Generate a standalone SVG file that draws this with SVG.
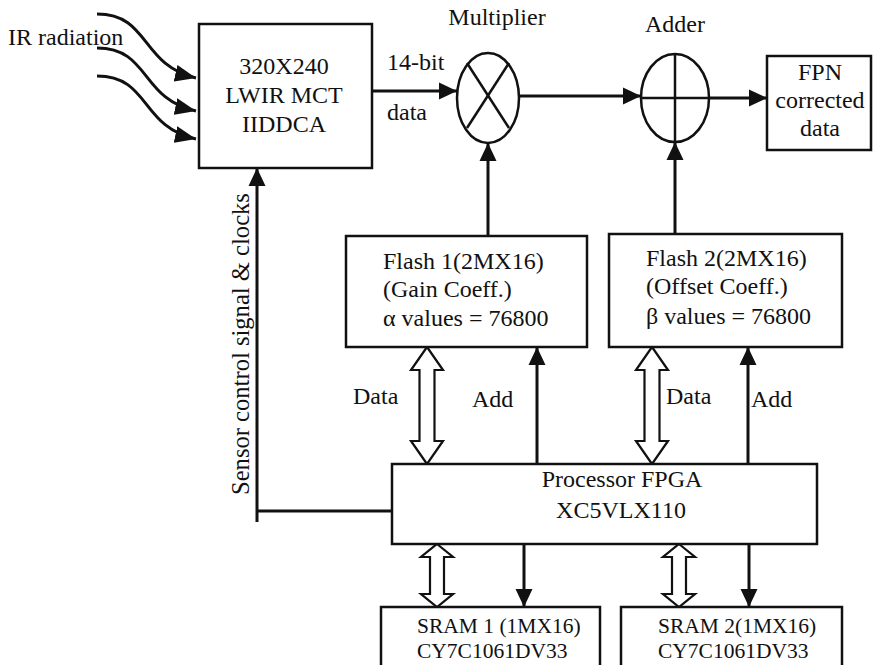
<svg xmlns="http://www.w3.org/2000/svg" width="873" height="665" viewBox="0 0 873 665">
<defs>
<marker id="ah" markerUnits="userSpaceOnUse" markerWidth="18" markerHeight="18" viewBox="0 0 18 18" refX="18" refY="9" orient="auto">
<path d="M0,0.5 L18,9 L0,17.5 Z" fill="#111"/>
</marker>
<marker id="ahc" markerUnits="userSpaceOnUse" markerWidth="21" markerHeight="18" viewBox="0 0 21 18" refX="21" refY="9" orient="auto">
<path d="M0,0.5 L21,9 L0,17.5 Z" fill="#111"/>
</marker>
</defs>
<style>
.box{fill:#fff;stroke:#111;stroke-width:2.5}
.ln{fill:none;stroke:#111;stroke-width:3}
.thin{fill:none;stroke:#111;stroke-width:2.5}
.dbl{fill:#fff;stroke:#111;stroke-width:2.2;stroke-linejoin:miter}
text{font-family:"Liberation Serif","Times New Roman",serif;font-size:24px;fill:#111}
.c{text-anchor:middle}
.sm{font-size:21.5px}
</style>
<rect width="873" height="665" fill="#fff"/>

<g id="connectors">
<path class="ln" d="M97,14 C150,14 140,65 196,78" marker-end="url(#ahc)"/>
<path class="ln" d="M97,48 C150,48 140,99 196,111" marker-end="url(#ahc)"/>
<path class="ln" d="M97,76 C150,76 140,127 196,139" marker-end="url(#ahc)"/>
<line class="ln" x1="372" y1="91" x2="457" y2="91" marker-end="url(#ah)"/>
<line class="ln" x1="519" y1="96" x2="641" y2="96" marker-end="url(#ah)"/>
<line class="ln" x1="709" y1="98" x2="767" y2="98" marker-end="url(#ah)"/>
<line class="ln" x1="488" y1="236" x2="488" y2="143" marker-end="url(#ah)"/>
<line class="ln" x1="675" y1="234" x2="675" y2="142" marker-end="url(#ah)"/>
<line class="ln" x1="537" y1="464" x2="537" y2="347" marker-end="url(#ah)"/>
<line class="ln" x1="748" y1="464" x2="748" y2="347" marker-end="url(#ah)"/>
<polyline class="ln" points="392,511 257,511"/>
<line class="ln" x1="257" y1="522" x2="257" y2="168" marker-end="url(#ah)"/>
<line class="ln" x1="524" y1="544" x2="524" y2="607" marker-end="url(#ah)"/>
<line class="ln" x1="749" y1="544" x2="749" y2="607" marker-end="url(#ah)"/>
<path class="dbl" d="M427,347 L443,370 L434.5,370 L434.5,441 L443,441 L427,464 L411,441 L419.5,441 L419.5,370 L411,370 Z"/>
<path class="dbl" d="M652,347 L668,370 L659.5,370 L659.5,441 L668,441 L652,464 L636,441 L644.5,441 L644.5,370 L636,370 Z"/>
<path class="dbl" d="M437,544 L453,557 L444,557 L444,594 L453,594 L437,607 L421,594 L430,594 L430,557 L421,557 Z"/>
<path class="dbl" d="M679,544 L695,557 L686,557 L686,594 L695,594 L679,607 L663,594 L672,594 L672,557 L663,557 Z"/>
<text x="8" y="45">IR radiation</text>
<text x="387" y="70">14-bit</text>
<text x="387" y="120">data</text>
<text x="353" y="404">Data</text>
<text x="472" y="407">Add</text>
<text x="666" y="404">Data</text>
<text x="751" y="407">Add</text>
<text transform="translate(249,495) rotate(-90)" style="font-size:24.6px">Sensor control signal &amp; clocks</text>
</g>

<g id="sensor">
<rect class="box" x="199" y="24" width="173" height="144"/>
<text class="c" x="284" y="74">320X240</text>
<text class="c" x="284" y="103">LWIR MCT</text>
<text class="c" x="284" y="132">IIDDCA</text>
</g>

<g id="multiplier">
<ellipse class="thin" cx="488" cy="98" rx="31" ry="45"/>
<line class="thin" x1="467" y1="63" x2="509" y2="128"/>
<line class="thin" x1="509" y1="63" x2="467" y2="128"/>
<text class="c" x="497" y="25">Multiplier</text>
</g>

<g id="adder">
<ellipse class="thin" cx="675" cy="98" rx="34" ry="44"/>
<line class="thin" x1="641" y1="98" x2="709" y2="98"/>
<line class="thin" x1="675" y1="54" x2="675" y2="142"/>
<text class="c" x="675" y="32">Adder</text>
</g>

<g id="fpn">
<rect class="box" x="767" y="56" width="104" height="94"/>
<text class="c" x="820" y="80">FPN</text>
<text class="c" x="820" y="108">corrected</text>
<text class="c" x="820" y="136">data</text>
</g>

<g id="flash1">
<rect class="box" x="346" y="236" width="241" height="111"/>
<text x="383" y="269">Flash 1(2MX16)</text>
<text x="383" y="297">(Gain Coeff.)</text>
<text x="383" y="326">α values = 76800</text>
</g>

<g id="flash2">
<rect class="box" x="609" y="234" width="233" height="113"/>
<text x="646" y="266">Flash 2(2MX16)</text>
<text x="646" y="294">(Offset Coeff.)</text>
<text x="646" y="324">β values = 76800</text>
</g>

<g id="fpga">
<rect class="box" x="392" y="464" width="425" height="80"/>
<text class="c" x="622" y="487">Processor FPGA</text>
<text class="c" x="621" y="518">XC5VLX110</text>
</g>

<g id="sram1">
<rect class="box" x="381" y="607" width="219" height="70"/>
<text class="sm" x="417" y="633">SRAM 1 (1MX16)</text>
<text class="sm" x="417" y="658">CY7C1061DV33</text>
</g>

<g id="sram2">
<rect class="box" x="621" y="607" width="221" height="70"/>
<text class="sm" x="658" y="633">SRAM 2(1MX16)</text>
<text class="sm" x="658" y="658">CY7C1061DV33</text>
</g>
</svg>
